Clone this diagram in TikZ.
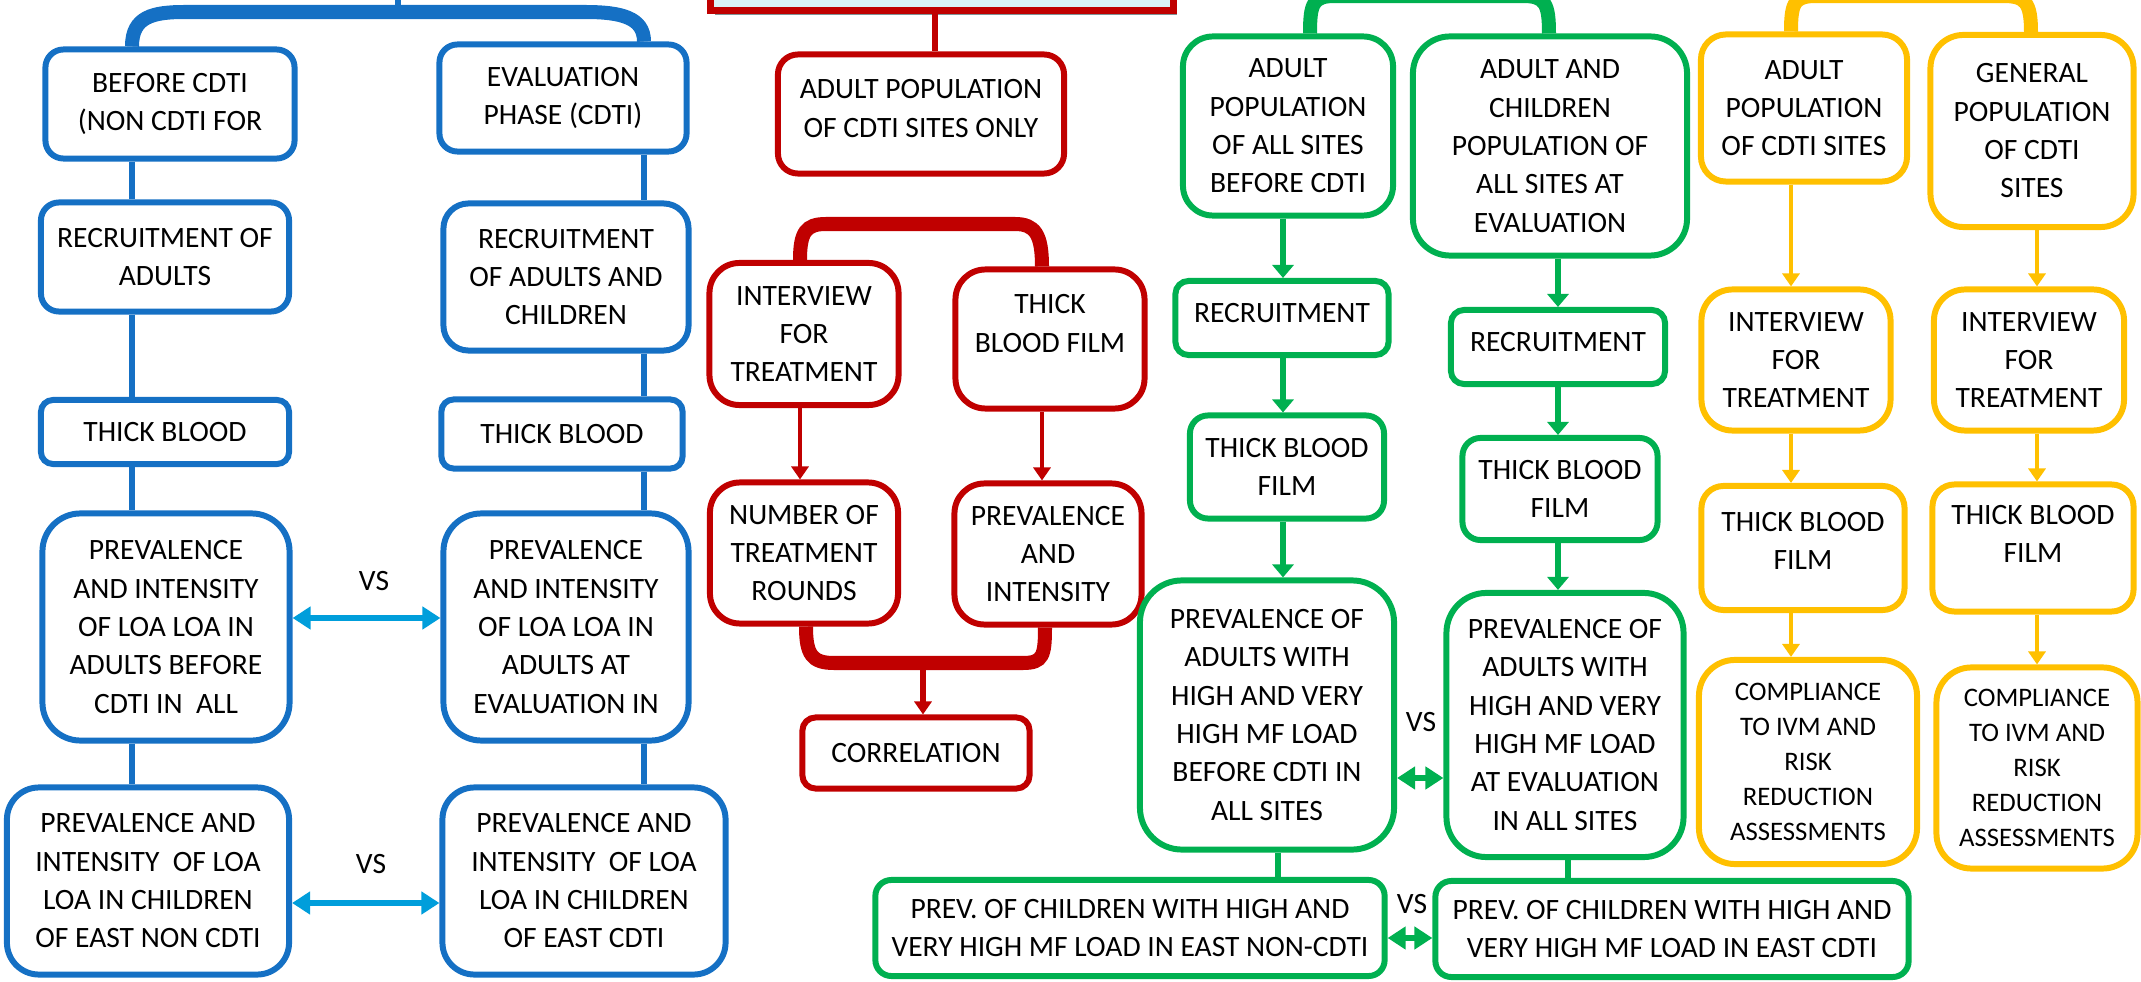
\documentclass[tikz,border=0pt]{standalone}
\usepackage{fontspec}
\setmainfont{Carlito}
\usepackage{xcolor}
\usetikzlibrary{arrows.meta, shadows}
\definecolor{cdtiblue}{RGB}{21,112,196}
\definecolor{vsblue}{RGB}{0,158,219}
\definecolor{cdtired}{RGB}{192,0,0}
\definecolor{cdtigreen}{RGB}{0,176,80}
\definecolor{cdtigold}{RGB}{255,192,0}
\definecolor{titlefill}{RGB}{218,242,247}
\definecolor{titleshade}{RGB}{127,148,152}
\tikzset{%
	box/.style={
		draw=#1,
		line width=1.7pt,
		fill=white,
		align=center,
		inner sep=0pt,
		font=\fontsize{8.4}{10.9}\selectfont
	},
	small text/.style={
		font=\fontsize{7.6}{9.96}\selectfont
	},
	link/.style={
		draw=#1,
		line width=1.7pt
	},
	flow/.style={
		draw=#1,
		line width=1.15pt,
		-{Triangle[length=0.13cm, width=0.17cm]}
	},
	thick flow/.style={
		draw=#1,
		line width=1.9pt,
		-{Triangle[length=0.13cm, width=0.21cm]}
	},
	brace/.style={
		draw=#1,
		line width=0.14cm
	},
	versus/.style={
		draw=#1,
		{Triangle[length=0.18cm, width=0.22cm]}-{Triangle[length=0.18cm, width=0.22cm]}
	},
	vs label/.style={
		inner sep=0pt,
		font=\fontsize{8.4}{10.9}\selectfont
	},
}
\begin{document}
\begin{tikzpicture}[x=0.01cm, y=-0.01cm]
	\useasboundingbox (0,0) rectangle (2141,982);

	% Blue branch, left column (before CDTI)
	\node[box=cdtiblue, rounded corners=0.18cm, minimum width=2.49cm, minimum height=1.09cm] (b1) at (170,104) {BEFORE CDTI\\(NON CDTI FOR};
	\node[box=cdtiblue, rounded corners=0.18cm, minimum width=2.48cm, minimum height=1.09cm] (r1) at (165,257) {RECRUITMENT OF\\ADULTS};
	\node[box=cdtiblue, rounded corners=0.12cm, minimum width=2.48cm, minimum height=0.64cm] (t1) at (165,432) {THICK BLOOD};
	\node[box=cdtiblue, rounded corners=0.38cm, minimum width=2.47cm, minimum height=2.27cm] (p1) at (166,627) {PREVALENCE\\AND INTENSITY\\OF LOA LOA IN\\ADULTS BEFORE\\CDTI IN~ ALL};
	\node[box=cdtiblue, rounded corners=0.32cm, minimum width=2.82cm, minimum height=1.87cm] (c1) at (148,881) {PREVALENCE AND\\INTENSITY~ OF LOA\\LOA IN CHILDREN\\OF EAST NON CDTI};

	% Blue branch, right column (evaluation)
	\node[box=cdtiblue, rounded corners=0.18cm, minimum width=2.47cm, minimum height=1.07cm] (b2) at (563,98) {EVALUATION\\PHASE (CDTI)};
	\node[box=cdtiblue, rounded corners=0.25cm, minimum width=2.45cm, minimum height=1.47cm] (r2) at (566,277) {RECRUITMENT\\OF ADULTS AND\\CHILDREN};
	\node[box=cdtiblue, rounded corners=0.12cm, minimum width=2.41cm, minimum height=0.69cm] (t2) at (562,434) {THICK BLOOD};
	\node[box=cdtiblue, rounded corners=0.38cm, minimum width=2.45cm, minimum height=2.27cm] (p2) at (566,627) {PREVALENCE\\AND INTENSITY\\OF LOA LOA IN\\ADULTS AT\\EVALUATION IN};
	\node[box=cdtiblue, rounded corners=0.32cm, minimum width=2.83cm, minimum height=1.87cm] (c2) at (584,881) {PREVALENCE AND\\INTENSITY~ OF LOA\\LOA IN CHILDREN\\OF EAST CDTI};

	% Blue lines
	\coordinate (bl) at (132,0);
	\coordinate (br) at (644,0);
	\coordinate (bluemid) at (398,12);
	\coordinate (bluetop) at (398,-30);
	\draw[link=cdtiblue] (bluemid) -- (bluetop);
	\draw[brace=cdtiblue] (b1.north -| bl) .. controls +(0,-30) and +(-32,0) .. (185,12) -- (585,12) .. controls +(36,0) and +(0,-24) .. (b2.north -| br);
	\draw[link=cdtiblue] (b1.south -| bl) -- (r1.north -| bl);
	\draw[link=cdtiblue] (r1.south -| bl) -- (t1.north -| bl);
	\draw[link=cdtiblue] (t1.south -| bl) -- (p1.north -| bl);
	\draw[link=cdtiblue] (p1.south -| bl) -- (c1.north -| bl);
	\draw[link=cdtiblue] (b2.south -| br) -- (r2.north -| br);
	\draw[link=cdtiblue] (r2.south -| br) -- (t2.north -| br);
	\draw[link=cdtiblue] (t2.south -| br) -- (p2.north -| br);
	\draw[link=cdtiblue] (p2.south -| br) -- (c2.north -| br);

	% Blue comparisons
	\coordinate (vs1) at (0,618);
	\coordinate (vs2) at (0,903);
	\draw[versus=vsblue, line width=1.7pt] (p1.east |- vs1) -- (p2.west |- vs1);
	\draw[versus=vsblue, line width=1.7pt] (c1.east |- vs2) -- (c2.west |- vs2);
	\node[vs label] (vsa) at (374,581) {VS};
	\node[vs label] (vsb) at (371,864) {VS};

	% Red branch
	\node[draw=cdtired, line width=0.07cm, fill=titlefill, minimum width=4.62cm, minimum height=1.2cm,
		drop shadow={shadow xshift=0.04cm, shadow yshift=-0.05cm, fill=titleshade, opacity=1}] (title) at (942,-50) {};
	\node[box=cdtired, rounded corners=0.2cm, minimum width=2.86cm, minimum height=1.19cm, text depth=0.11cm] (a) at (921,114) {ADULT POPULATION\\OF CDTI SITES ONLY};
	\node[box=cdtired, rounded corners=0.3cm, minimum width=1.89cm, minimum height=1.42cm] (i1) at (804,334) {INTERVIEW\\FOR\\TREATMENT};
	\node[box=cdtired, rounded corners=0.3cm, minimum width=1.89cm, minimum height=1.39cm, text depth=0.31cm] (tb) at (1050,339) {THICK\\BLOOD FILM};
	\node[box=cdtired, rounded corners=0.3cm, minimum width=1.88cm, minimum height=1.41cm] (n) at (804,553) {NUMBER OF\\TREATMENT\\ROUNDS};
	\node[box=cdtired, rounded corners=0.3cm, minimum width=1.87cm, minimum height=1.41cm] (prevint) at (1048,554) {PREVALENCE\\AND\\INTENSITY};
	\node[box=cdtired, rounded corners=0.13cm, minimum width=2.27cm, minimum height=0.71cm] (corr) at (916,753) {CORRELATION};

	% Red lines and arrows
	\coordinate (rc) at (935,0);
	\coordinate (rl) at (800,0);
	\coordinate (rr) at (1042,0);
	\coordinate (rbl) at (806,0);
	\coordinate (rbr) at (1045,0);
	\coordinate (rj) at (923,663);
	\draw[link=cdtired] (title.south -| rc) -- (a.north -| rc);
	\draw[brace=cdtired] (i1.north -| rl) .. controls +(0,-28) and +(-20,0) .. (826,224) -- (1015,224) .. controls +(20,0) and +(0,-32) .. (tb.north -| rr);
	\draw[flow=cdtired] (i1.south -| rl) -- (n.north -| rl);
	\draw[flow=cdtired] (tb.south -| rr) -- (prevint.north -| rr);
	\draw[brace=cdtired] (n.south -| rbl) .. controls +(0,28) and +(-22,0) .. (834,663) -- (1023,663) .. controls +(20,0) and +(0,28) .. (prevint.south -| rbr);
	\draw[flow=cdtired, line width=1.7pt] (rj) -- (corr.north -| rj);

	% Green branch, left column
	\node[box=cdtigreen, rounded corners=0.3cm, minimum width=2.1cm, minimum height=1.79cm] (g1) at (1288,126) {ADULT\\POPULATION\\OF ALL SITES\\BEFORE CDTI};
	\node[box=cdtigreen, rounded corners=0.13cm, minimum width=2.13cm, minimum height=0.74cm, text depth=0.1cm] (gr1) at (1282,318) {RECRUITMENT};
	\node[box=cdtigreen, rounded corners=0.18cm, minimum width=1.94cm, minimum height=1.03cm] (gt1) at (1287,467) {THICK BLOOD\\FILM};
	\node[box=cdtigreen, rounded corners=0.42cm, minimum width=2.54cm, minimum height=2.69cm] (gp1) at (1267,715) {PREVALENCE OF\\ADULTS WITH\\HIGH AND VERY\\HIGH MF LOAD\\BEFORE CDTI IN\\ALL SITES};
	\node[box=cdtigreen, rounded corners=0.16cm, minimum width=5.09cm, minimum height=0.96cm] (gc1) at (1130,928) {PREV. OF CHILDREN WITH HIGH AND\\VERY HIGH MF LOAD IN EAST NON-CDTI};

	% Green branch, right column
	\node[box=cdtigreen, rounded corners=0.37cm, minimum width=2.74cm, minimum height=2.19cm] (g2) at (1550,146) {ADULT AND\\CHILDREN\\POPULATION OF\\ALL SITES AT\\EVALUATION};
	\node[box=cdtigreen, rounded corners=0.13cm, minimum width=2.14cm, minimum height=0.74cm, text depth=0.1cm] (gr2) at (1558,347) {RECRUITMENT};
	\node[box=cdtigreen, rounded corners=0.18cm, minimum width=1.95cm, minimum height=1.02cm] (gt2) at (1560,489) {THICK BLOOD\\FILM};
	\node[box=cdtigreen, rounded corners=0.4cm, minimum width=2.37cm, minimum height=2.64cm] (gp2) at (1565,725) {PREVALENCE OF\\ADULTS WITH\\HIGH AND VERY\\HIGH MF LOAD\\AT EVALUATION\\IN ALL SITES};
	\node[box=cdtigreen, rounded corners=0.16cm, minimum width=4.73cm, minimum height=0.96cm] (gc2) at (1672,929) {PREV. OF CHILDREN WITH HIGH AND\\VERY HIGH MF LOAD IN EAST CDTI};

	% Green lines and arrows
	\coordinate (gl) at (1283,0);
	\coordinate (gr) at (1558,0);
	\coordinate (gcl) at (1278,0);
	\coordinate (gcr) at (1568,0);
	\coordinate (gbl) at (1310,0);
	\coordinate (gbr) at (1549,0);
	\draw[brace=cdtigreen] (g1.north -| gbl) .. controls +(0,-30) and +(-22,0) .. (1335,-4) -- (1523,-4) .. controls +(22,0) and +(0,-30) .. (g2.north -| gbr);
	\draw[thick flow=cdtigreen] (g1.south -| gl) -- (gr1.north -| gl);
	\draw[thick flow=cdtigreen] (gr1.south -| gl) -- (gt1.north -| gl);
	\draw[thick flow=cdtigreen] (gt1.south -| gl) -- (gp1.north -| gl);
	\draw[thick flow=cdtigreen] (g2.south -| gr) -- (gr2.north -| gr);
	\draw[thick flow=cdtigreen] (gr2.south -| gr) -- (gt2.north -| gr);
	\draw[thick flow=cdtigreen] (gt2.south -| gr) -- (gp2.north -| gr);
	\draw[link=cdtigreen] (gp1.south -| gcl) -- (gc1.north -| gcl);
	\draw[link=cdtigreen] (gp2.south -| gcr) -- (gc2.north -| gcr);

	% Green comparisons
	\coordinate (vs3) at (0,778);
	\coordinate (vs4) at (0,938);
	\draw[versus=cdtigreen, line width=1.9pt] (gp1.east |- vs3) -- (gp2.west |- vs3);
	\draw[versus=cdtigreen, line width=1.9pt] (gc1.east |- vs4) -- (gc2.west |- vs4);
	\node[vs label] (vsc) at (1421,722) {VS};
	\node[vs label] (vsd) at (1412,904) {VS};

	% Gold branch
	\node[box=cdtigold, rounded corners=0.25cm, minimum width=2.06cm, minimum height=1.47cm] (y1) at (1804,108) {ADULT\\POPULATION\\OF CDTI SITES};
	\node[box=cdtigold, rounded corners=0.31cm, minimum width=1.89cm, minimum height=1.41cm] (yi1) at (1796,360) {INTERVIEW\\FOR\\TREATMENT};
	\node[box=cdtigold, rounded corners=0.22cm, minimum width=2.03cm, minimum height=1.24cm, text depth=0.14cm] (yt1) at (1803,548) {THICK BLOOD\\FILM};
	\node[box=cdtigold, small text, rounded corners=0.36cm, minimum width=2.18cm, minimum height=2.04cm] (yc1) at (1808,762) {COMPLIANCE\\TO IVM AND\\RISK\\REDUCTION\\ASSESSMENTS};
	\node[box=cdtigold, rounded corners=0.33cm, minimum width=2.03cm, minimum height=1.92cm] (y2) at (2032,131) {GENERAL\\POPULATION\\OF CDTI\\SITES};
	\node[box=cdtigold, rounded corners=0.31cm, minimum width=1.9cm, minimum height=1.41cm] (yi2) at (2029,360) {INTERVIEW\\FOR\\TREATMENT};
	\node[box=cdtigold, rounded corners=0.22cm, minimum width=2.01cm, minimum height=1.27cm, text depth=0.28cm] (yt2) at (2033,548) {THICK BLOOD\\FILM};
	\node[box=cdtigold, small text, rounded corners=0.35cm, minimum width=2.01cm, minimum height=2.01cm] (yc2) at (2037,768) {COMPLIANCE\\TO IVM AND\\RISK\\REDUCTION\\ASSESSMENTS};

	% Gold arrows
	\coordinate (yl) at (1791,0);
	\coordinate (yr) at (2037,0);
	\coordinate (ybr) at (2031,0);
	\draw[brace=cdtigold] (y1.north -| yl) .. controls +(0,-30) and +(-22,0) .. (1817,-4) -- (2003,-4) .. controls +(22,0) and +(0,-30) .. (y2.north -| ybr);
	\draw[flow=cdtigold] (y1.south -| yl) -- (yi1.north -| yl);
	\draw[flow=cdtigold] (yi1.south -| yl) -- (yt1.north -| yl);
	\draw[flow=cdtigold] (yt1.south -| yl) -- (yc1.north -| yl);
	\draw[flow=cdtigold] (y2.south -| yr) -- (yi2.north -| yr);
	\draw[flow=cdtigold] (yi2.south -| yr) -- (yt2.north -| yr);
	\draw[flow=cdtigold] (yt2.south -| yr) -- (yc2.north -| yr);

\end{tikzpicture}
\end{document}
